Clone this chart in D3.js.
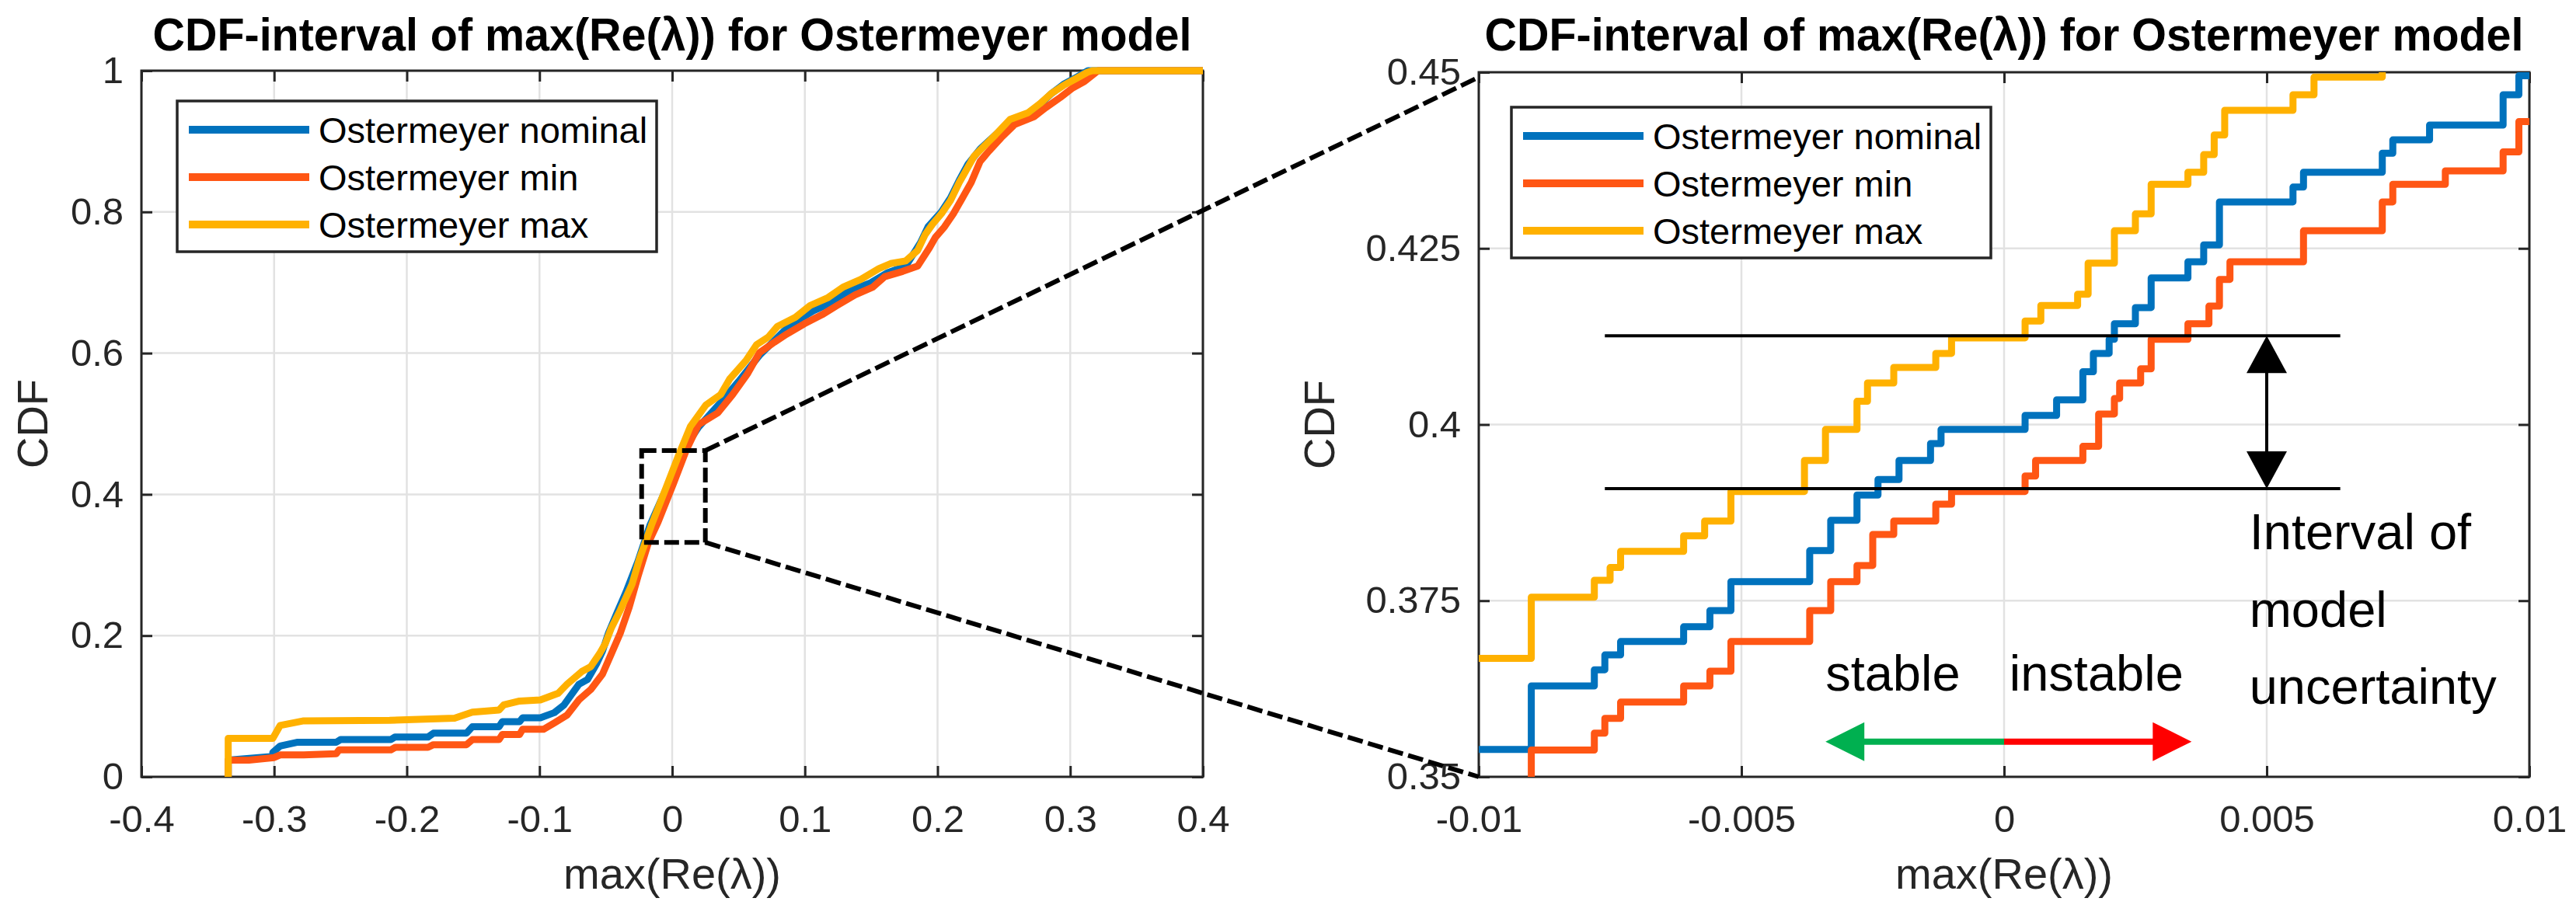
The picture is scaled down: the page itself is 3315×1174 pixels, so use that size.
<!DOCTYPE html>
<html>
<head>
<meta charset="utf-8">
<script src="https://cdn.jsdelivr.net/npm/d3@7"></script>
<style>
  body { margin: 0; background: #fff; }
  svg { display: block; font-family: "Liberation Sans", Arial, sans-serif; }
  .tick-label { font-size: 49px; fill: #262626; }
  .axis-label { font-size: 56px; fill: #262626; }
  .title { font-size: 59px; font-weight: bold; fill: #000; }
  .legend-text { font-size: 47px; fill: #000; }
  .note { font-size: 65px; fill: #000; }
</style>
</head>
<body>
<svg id="chart"></svg>
<script>
// ---- data ----
const seriesNames = ['Ostermeyer nominal', 'Ostermeyer min', 'Ostermeyer max'];

const fullXTicks = [-0.4, -0.3, -0.2, -0.1, 0, 0.1, 0.2, 0.3, 0.4];
const fullYTicks = [0, 0.2, 0.4, 0.6, 0.8, 1];
const zoomXTicks = [-0.01, -0.005, 0, 0.005, 0.01];
const zoomYTicks = [0.35, 0.375, 0.4, 0.425, 0.45];

// full range CDF, [max(Re(lambda)), CDF]
const fullNominal = [[-0.3346, 0], [-0.3346, 0.0236], [-0.301, 0.029], [-0.301, 0.0345], [-0.2955, 0.0436],
  [-0.2822, 0.049], [-0.2532, 0.049], [-0.25, 0.0527], [-0.212, 0.0527], [-0.209, 0.0564], [-0.184, 0.0564],
  [-0.18, 0.0618], [-0.155, 0.0618], [-0.1506, 0.0709], [-0.1305, 0.0709], [-0.128, 0.078], [-0.115, 0.078],
  [-0.1127, 0.0836], [-0.0993, 0.0836], [-0.0888, 0.0909], [-0.0815, 0.1018], [-0.0703, 0.131], [-0.0637, 0.138],
  [-0.057, 0.16], [-0.0525, 0.178], [-0.048, 0.2036], [-0.0414, 0.233], [-0.0347, 0.262], [-0.0258, 0.305],
  [-0.0168, 0.356], [-0.004, 0.41], [0.0075, 0.46], [0.0198, 0.495], [0.0366, 0.5302], [0.0501, 0.56],
  [0.0658, 0.597], [0.0838, 0.6304], [0.0906, 0.6416], [0.1063, 0.66], [0.1198, 0.6712], [0.1333, 0.688],
  [0.149, 0.6991], [0.1625, 0.714], [0.176, 0.7232], [0.1872, 0.7566], [0.1928, 0.7788], [0.2029, 0.800],
  [0.2097, 0.8197], [0.2164, 0.845], [0.2231, 0.868], [0.2321, 0.889], [0.2434, 0.9087], [0.2546, 0.928],
  [0.2681, 0.938], [0.2771, 0.952], [0.2861, 0.968], [0.295, 0.9808], [0.304, 0.990], [0.3134, 1.0], [0.4, 1.0]];

const fullMin = [[-0.3346, 0], [-0.3346, 0.0236], [-0.319, 0.0236], [-0.3, 0.0273], [-0.2955, 0.031],
  [-0.2777, 0.031], [-0.2532, 0.0327], [-0.251, 0.0382], [-0.212, 0.0382], [-0.2086, 0.0418], [-0.184, 0.0418],
  [-0.18, 0.0455], [-0.155, 0.0455], [-0.1506, 0.0527], [-0.1305, 0.0527], [-0.128, 0.06], [-0.115, 0.06],
  [-0.1127, 0.0673], [-0.097, 0.0673], [-0.0888, 0.0764], [-0.0793, 0.0873], [-0.0703, 0.109], [-0.0614, 0.1236],
  [-0.0525, 0.1455], [-0.0458, 0.1745], [-0.0391, 0.2036], [-0.0324, 0.24], [-0.0258, 0.2836], [-0.018, 0.331],
  [-0.0107, 0.3604], [0.001, 0.4154], [0.0107, 0.4631], [0.0198, 0.4987], [0.0344, 0.5154], [0.0456, 0.5414],
  [0.0569, 0.5711], [0.0658, 0.6007], [0.0771, 0.6156], [0.0861, 0.6267], [0.0996, 0.6416], [0.113, 0.6545],
  [0.1243, 0.6675], [0.1378, 0.6824], [0.1512, 0.6935], [0.1602, 0.7083], [0.1737, 0.7158], [0.185, 0.7232],
  [0.1939, 0.7492], [0.1984, 0.764], [0.2052, 0.7788], [0.2119, 0.7974], [0.2187, 0.8197], [0.2254, 0.8419],
  [0.2321, 0.8716], [0.2389, 0.8865], [0.2479, 0.905], [0.258, 0.9236], [0.2726, 0.9347], [0.2816, 0.9477],
  [0.2928, 0.9625], [0.3018, 0.9755], [0.3108, 0.9848], [0.321, 1.0], [0.4, 1.0]];

const fullMax = [[-0.3346, 0], [-0.3346, 0.0545], [-0.301, 0.0545], [-0.2955, 0.0727], [-0.2777, 0.0793],
  [-0.213, 0.080], [-0.164, 0.083], [-0.1506, 0.0916], [-0.1305, 0.0945], [-0.127, 0.1018], [-0.115, 0.1073],
  [-0.0993, 0.109], [-0.086, 0.1182], [-0.0793, 0.131], [-0.0682, 0.149], [-0.0614, 0.156], [-0.0547, 0.1745],
  [-0.0503, 0.189], [-0.0458, 0.211], [-0.0391, 0.236], [-0.0302, 0.273], [-0.0246, 0.309], [-0.0157, 0.356],
  [-0.0049, 0.408], [0.0049, 0.4557], [0.0137, 0.496], [0.0254, 0.5265], [0.0366, 0.5414], [0.0434, 0.5636],
  [0.0557, 0.5896], [0.0636, 0.6119], [0.0726, 0.623], [0.0793, 0.6378], [0.0928, 0.6508], [0.104, 0.6675],
  [0.1175, 0.6787], [0.1288, 0.6935], [0.1422, 0.7046], [0.1557, 0.7195], [0.1647, 0.7269], [0.176, 0.7306],
  [0.185, 0.7454], [0.1906, 0.7677], [0.1962, 0.7826], [0.2029, 0.7974], [0.2097, 0.816], [0.2164, 0.8419],
  [0.2209, 0.8568], [0.2276, 0.879], [0.2355, 0.8939], [0.2434, 0.9087], [0.2546, 0.931], [0.2681, 0.9403],
  [0.2771, 0.9532], [0.2861, 0.9681], [0.295, 0.9792], [0.304, 0.9885], [0.313, 0.9978], [0.3167, 1.0], [0.4, 1.0]];

// zoomed CDF, step points (value holds until the next x)
const zoomNominal = [[-0.0100, 0.3539], [-0.0090, 0.3629], [-0.0078, 0.3652], [-0.0076, 0.3673], [-0.0073, 0.3692],
  [-0.0061, 0.3713], [-0.0056, 0.3736], [-0.0052, 0.3777], [-0.0037, 0.3821], [-0.0033, 0.3864], [-0.0028, 0.3900],
  [-0.0024, 0.3922], [-0.0020, 0.3949], [-0.0014, 0.3973], [-0.0012, 0.3993], [0.0004, 0.4013], [0.0010, 0.4035],
  [0.0015, 0.4075], [0.0017, 0.4101], [0.0020, 0.4121], [0.0021, 0.4143], [0.0025, 0.4166], [0.0028, 0.4208],
  [0.0035, 0.4231], [0.0038, 0.4255], [0.0041, 0.4316], [0.0055, 0.4337], [0.0057, 0.4358], [0.0072, 0.4385],
  [0.0074, 0.4404], [0.0081, 0.4425], [0.0095, 0.4468], [0.0098, 0.4495], [0.0100, 0.4495]];

const zoomMin = [[-0.0100, 0.3490], [-0.0090, 0.3538], [-0.0078, 0.3562], [-0.0076, 0.3583], [-0.0073, 0.3606],
  [-0.0061, 0.3629], [-0.0056, 0.3650], [-0.0052, 0.3692], [-0.0037, 0.3736], [-0.0033, 0.3777], [-0.0028, 0.3800],
  [-0.0025, 0.3844], [-0.0021, 0.3863], [-0.0013, 0.3887], [-0.0010, 0.3905], [0.0004, 0.3927], [0.0006, 0.3949],
  [0.0015, 0.3969], [0.0018, 0.4015], [0.0021, 0.4037], [0.0022, 0.4059], [0.0026, 0.4079], [0.0028, 0.4121],
  [0.0035, 0.4143], [0.0039, 0.4168], [0.0041, 0.4206], [0.0043, 0.4231], [0.0057, 0.4275], [0.0072, 0.4316],
  [0.0074, 0.4341], [0.0084, 0.4360], [0.0095, 0.4387], [0.0098, 0.4430], [0.0100, 0.4430]];

const zoomMax = [[-0.0100, 0.3668], [-0.0090, 0.3755], [-0.0078, 0.3779], [-0.0075, 0.3797], [-0.0073, 0.3820],
  [-0.0061, 0.3842], [-0.0057, 0.3863], [-0.0052, 0.3905], [-0.0038, 0.3949], [-0.0034, 0.3993], [-0.0028, 0.4033],
  [-0.0026, 0.4059], [-0.0021, 0.4081], [-0.0013, 0.4101], [-0.0010, 0.4123], [0.0004, 0.4147], [0.0007, 0.4169],
  [0.0014, 0.4185], [0.0016, 0.4229], [0.0021, 0.4275], [0.0025, 0.4299], [0.0028, 0.4341], [0.0035, 0.4358],
  [0.0038, 0.4383], [0.0040, 0.4411], [0.0042, 0.4446], [0.0055, 0.4468], [0.0059, 0.4493], [0.0072, 0.4520]];

// annotations
const zoomBoxX = [-0.023, 0.025];          // dashed window on the full plot
const zoomBoxY = [0.332, 0.462];
const connectorTargets = [[-0.01, 0.4493], [-0.01, 0.35]];
const intervalLevels = [0.3909, 0.4126];   // CDF band at x = 0
const intervalSpan = [-0.0076, 0.0064];
const intervalArrowX = 0.005;
const intervalText = ['Interval of', 'model', 'uncertainty'];
const intervalTextX = 0.00467;
const intervalTextY = [0.3823, 0.3713, 0.3604];
const stabilityArrowY = 0.355;
const stabilityTips = [-0.0034, 0.00357];
const stabilityText = ['stable', 'instable'];
const stabilityTextX = [-0.0034, 0.0001];
const stabilityTextY = 0.3622;

// ---- styling ----
const seriesColors = ['#0072bd', '#ff5614', '#ffb100'];
const titleText = 'CDF-interval of max(Re(\u03bb)) for Ostermeyer model';
const xLabelText = 'max(Re(\u03bb))';

const svg = d3.select('#chart').attr('width', 3315).attr('height', 1174);

class CdfPanel {
  constructor(config) {
    this.svg = config.svg;
    this.left = config.left;
    this.top = config.top;
    this.width = config.width;
    this.height = config.height;
    this.xTicks = config.xTicks;
    this.yTicks = config.yTicks;
    this.series = config.series;
    this.curve = config.curve;
    this.clipId = config.clipId;
    this.legendOffset = config.legendOffset;
    this.yLabelOffset = config.yLabelOffset;
    this.initVis();
  }

  initVis() {
    let vis = this;
    vis.xScale = d3.scaleLinear()
      .domain(d3.extent(vis.xTicks))
      .range([vis.left, vis.left + vis.width]);
    vis.yScale = d3.scaleLinear()
      .domain(d3.extent(vis.yTicks))
      .range([vis.top + vis.height, vis.top]);

    vis.g = vis.svg.append('g');

    // light grid under everything
    let grid = vis.g.append('g').attr('stroke', '#e2e2e2').attr('stroke-width', 2.5);
    grid.selectAll('.gx').data(vis.xTicks).join('line')
      .attr('x1', d => vis.xScale(d)).attr('x2', d => vis.xScale(d))
      .attr('y1', vis.top).attr('y2', vis.top + vis.height);
    grid.selectAll('.gy').data(vis.yTicks).join('line')
      .attr('x1', vis.left).attr('x2', vis.left + vis.width)
      .attr('y1', d => vis.yScale(d)).attr('y2', d => vis.yScale(d));

    // matlab style: ticks point inward on all four sides
    const fmt = d => String(d);
    vis.xAxis = d3.axisBottom(vis.xScale).tickValues(vis.xTicks).tickSize(-14).tickSizeOuter(0).tickPadding(36).tickFormat(fmt);
    vis.yAxis = d3.axisLeft(vis.yScale).tickValues(vis.yTicks).tickSize(-14).tickSizeOuter(0).tickPadding(23).tickFormat(fmt);
    vis.xAxisTop = d3.axisTop(vis.xScale).tickValues(vis.xTicks).tickSize(-14).tickSizeOuter(0).tickFormat('');
    vis.yAxisRight = d3.axisRight(vis.yScale).tickValues(vis.yTicks).tickSize(-14).tickSizeOuter(0).tickFormat('');

    const style = sel => {
      sel.attr('font-size', null).attr('font-family', null).attr('color', '#262626');
      sel.select('.domain').remove();
      sel.selectAll('.tick line').attr('stroke-width', 3);
      sel.selectAll('.tick text').attr('class', 'tick-label');
    };
    vis.g.append('g').attr('transform', `translate(0,${vis.top + vis.height})`).call(vis.xAxis).call(style);
    vis.g.append('g').attr('transform', `translate(${vis.left},0)`).call(vis.yAxis).call(style);
    vis.g.append('g').attr('transform', `translate(0,${vis.top})`).call(vis.xAxisTop).call(style);
    vis.g.append('g').attr('transform', `translate(${vis.left + vis.width},0)`).call(vis.yAxisRight).call(style);

    vis.g.append('rect')
      .attr('x', vis.left).attr('y', vis.top)
      .attr('width', vis.width).attr('height', vis.height)
      .attr('fill', 'none').attr('stroke', '#262626').attr('stroke-width', 3);

    // labels
    let cx = vis.left + vis.width / 2;
    vis.g.append('text').attr('class', 'title')
      .attr('x', cx).attr('y', 65).attr('text-anchor', 'middle')
      .attr('textLength', 1337).attr('lengthAdjust', 'spacingAndGlyphs')
      .text(titleText);
    vis.g.append('text').attr('class', 'axis-label')
      .attr('x', cx).attr('y', 1144).attr('text-anchor', 'middle').text(xLabelText);
    vis.g.append('text').attr('class', 'axis-label')
      .attr('transform', `translate(${vis.left + vis.yLabelOffset},${vis.top + vis.height / 2}) rotate(-90)`)
      .attr('text-anchor', 'middle').text('CDF');

    if (vis.clipId) {
      vis.svg.append('clipPath').attr('id', vis.clipId).append('rect')
        .attr('x', vis.left).attr('y', vis.top).attr('width', vis.width).attr('height', vis.height);
    }
    vis.renderVis();
  }

  renderVis() {
    let vis = this;
    let line = d3.line()
      .x(d => vis.xScale(d[0]))
      .y(d => vis.yScale(d[1]))
      .curve(vis.curve);

    let curves = vis.g.append('g');
    if (vis.clipId) curves.attr('clip-path', `url(#${vis.clipId})`);
    curves.selectAll('path')
      .data(vis.series)
      .join('path')
      .attr('d', d => line(d))
      .attr('fill', 'none')
      .attr('stroke', (d, i) => seriesColors[i])
      .attr('stroke-width', 9)
      .attr('stroke-linejoin', 'round');

    // legend box
    let lx = vis.left + vis.legendOffset[0];
    let ly = vis.top + vis.legendOffset[1];
    let legend = vis.g.append('g').attr('transform', `translate(${lx},${ly})`);
    legend.append('rect').attr('width', 617).attr('height', 194)
      .attr('fill', '#fff').attr('stroke', '#262626').attr('stroke-width', 3.5);
    let rows = legend.selectAll('.row').data(seriesNames).join('g')
      .attr('transform', (d, i) => `translate(0,${37 + i * 61})`);
    rows.append('line').attr('x1', 15).attr('x2', 170)
      .attr('stroke', (d, i) => seriesColors[i]).attr('stroke-width', 10);
    rows.append('text').attr('class', 'legend-text').attr('x', 182).attr('y', 17).text(d => d);
  }
}

const full = new CdfPanel({
  svg: svg, left: 182, top: 91, width: 1366, height: 909,
  xTicks: fullXTicks, yTicks: fullYTicks,
  series: [fullNominal, fullMin, fullMax],
  curve: d3.curveLinear, clipId: null,
  legendOffset: [46, 39], yLabelOffset: -121
});

const zoom = new CdfPanel({
  svg: svg, left: 1903, top: 93, width: 1352, height: 907,
  xTicks: zoomXTicks, yTicks: zoomYTicks,
  series: [zoomNominal, zoomMin, zoomMax],
  curve: d3.curveStepAfter, clipId: 'zoom-clip',
  legendOffset: [42, 45], yLabelOffset: -186
});

// ---- dashed magnifier ----
let ann = svg.append('g');
let bx0 = full.xScale(zoomBoxX[0]), bx1 = full.xScale(zoomBoxX[1]);
let byTop = full.yScale(zoomBoxY[1]), byBot = full.yScale(zoomBoxY[0]);
ann.append('rect')
  .attr('x', bx0).attr('y', byTop).attr('width', bx1 - bx0).attr('height', byBot - byTop)
  .attr('fill', 'none').attr('stroke', '#000').attr('stroke-width', 6).attr('stroke-dasharray', '19 7');
ann.selectAll('.connector').data(connectorTargets).join('line')
  .attr('x1', bx1).attr('y1', (d, i) => i === 0 ? byTop : byBot)
  .attr('x2', d => zoom.xScale(d[0])).attr('y2', d => zoom.yScale(d[1]))
  .attr('stroke', '#000').attr('stroke-width', 6).attr('stroke-dasharray', '20 7');

// ---- interval of model uncertainty ----
ann.selectAll('.level').data(intervalLevels).join('line')
  .attr('x1', zoom.xScale(intervalSpan[0])).attr('x2', zoom.xScale(intervalSpan[1]))
  .attr('y1', d => zoom.yScale(d)).attr('y2', d => zoom.yScale(d))
  .attr('stroke', '#000').attr('stroke-width', 4);

const head = (tx, ty, dx, dy, len, half) => {
  // triangle with tip at (tx,ty) pointing along (dx,dy)
  let bx = tx - dx * len, by = ty - dy * len;
  return [[tx, ty], [bx - dy * half, by + dx * half], [bx + dy * half, by - dx * half]].map(p => p.join(',')).join(' ');
};

let ax = zoom.xScale(intervalArrowX);
let yLow = zoom.yScale(intervalLevels[0]), yHigh = zoom.yScale(intervalLevels[1]);
ann.append('line').attr('x1', ax).attr('x2', ax).attr('y1', yHigh + 40).attr('y2', yLow - 40)
  .attr('stroke', '#000').attr('stroke-width', 4);
ann.append('polygon').attr('points', head(ax, yHigh, 0, -1, 48, 26)).attr('fill', '#000');
ann.append('polygon').attr('points', head(ax, yLow, 0, 1, 48, 26)).attr('fill', '#000');

ann.selectAll('.itext').data(intervalText).join('text')
  .attr('class', 'note')
  .attr('x', zoom.xScale(intervalTextX))
  .attr('y', (d, i) => zoom.yScale(intervalTextY[i]))
  .text(d => d);

// ---- stable / instable arrows ----
let x0 = zoom.xScale(0), sy = zoom.yScale(stabilityArrowY);
let stabColors = ['#00b050', '#ff0000'];
stabilityTips.forEach((t, i) => {
  let tx = zoom.xScale(t);
  let dir = i === 0 ? -1 : 1;
  ann.append('line').attr('x1', x0).attr('x2', tx - dir * 45).attr('y1', sy).attr('y2', sy)
    .attr('stroke', stabColors[i]).attr('stroke-width', 8);
  ann.append('polygon').attr('points', head(tx, sy, dir, 0, 50, 25)).attr('fill', stabColors[i]);
});
ann.selectAll('.stext').data(stabilityText).join('text')
  .attr('class', 'note')
  .attr('x', (d, i) => zoom.xScale(stabilityTextX[i]))
  .attr('y', zoom.yScale(stabilityTextY))
  .text(d => d);
</script>
</body>
</html>
